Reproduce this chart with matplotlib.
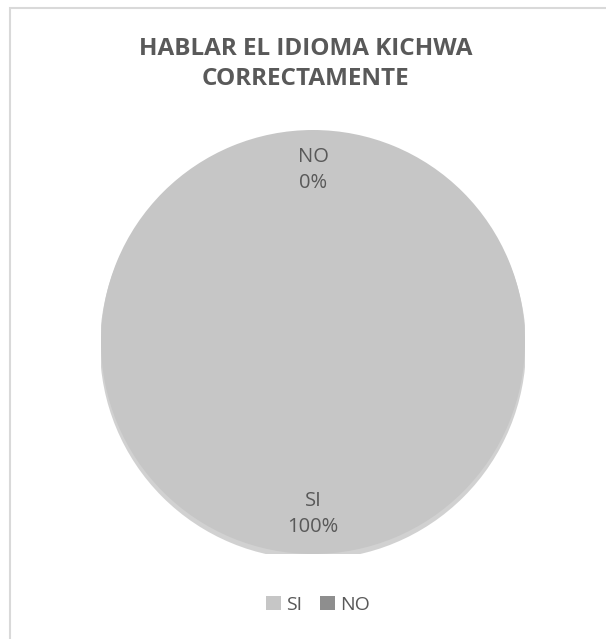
import matplotlib.pyplot as plt
from matplotlib.patches import Rectangle, Circle

categorias = ['SI', 'NO']
valores = [100, 0]
porcentajes = ['100%', '0%']
colores = ['#C6C6C6', '#8E8E8E']
titulo = 'HABLAR EL IDIOMA KICHWA\nCORRECTAMENTE'

plt.rcParams['font.family'] = ['Open Sans', 'DejaVu Sans']

fig = plt.figure(figsize=(6.06, 6.39), dpi=100)
fig.patch.set_facecolor('white')

# borde del area del grafico
fig.patches.append(Rectangle((10 / 606, -0.1), 1.2, 1 - 8 / 639 + 0.1,
                             transform=fig.transFigure, facecolor='none',
                             edgecolor='#D9D9D9', linewidth=1.5))

# pie: centro (313, 342) px, radio ~212 px
ax = fig.add_axes([(313 - 212) / 606, (639 - 342 - 212) / 639, 424 / 606, 424 / 639])
# sombra suave debajo del pie
ax.add_patch(Circle((0.0, -0.02), 1.005, facecolor='#9A9A9A', alpha=0.45,
                    edgecolor='none', zorder=0))
wedges, texts = ax.pie(valores, colors=colores, startangle=90, counterclock=False,
                       labels=[f'{c}\n{p}' for c, p in zip(categorias, porcentajes)],
                       labeldistance=0.81,
                       wedgeprops=dict(linewidth=0),
                       textprops=dict(color='#595959', fontsize=14.5, ha='center', va='center',
                                      linespacing=1.4))
for w in wedges:
    w.set_zorder(1)
ax.set_aspect('equal')
ax.set_xlim(-1.0, 1.0)
ax.set_ylim(-1.0, 1.0)

fig.text(0.504, 1 - 64 / 639, titulo, ha='center', va='center', fontsize=17.5,
         fontweight='bold', color='#595959', linespacing=1.3)

leg = fig.legend(wedges, categorias, loc='center', bbox_to_anchor=(0.525, 1 - 605 / 639),
                 ncol=2, frameon=False, fontsize=14, handlelength=0.75, handleheight=0.75,
                 handletextpad=0.3, columnspacing=0.9, labelcolor='#595959')

fig.savefig('out.png', dpi=100)
